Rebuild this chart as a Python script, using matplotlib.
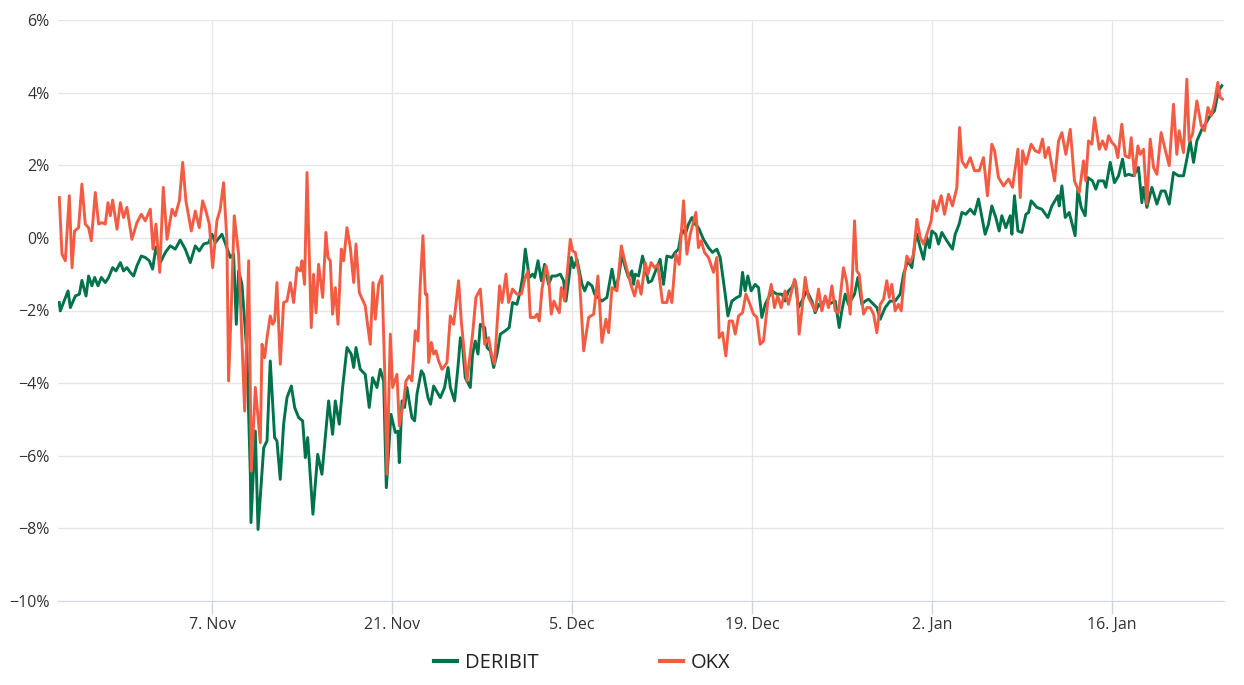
import numpy as np
import pandas as pd
import matplotlib
matplotlib.use("Agg")
import matplotlib.pyplot as plt
import matplotlib.dates as mdates
from matplotlib.ticker import MultipleLocator, FuncFormatter

plt.rcParams['font.family'] = ['Open Sans', 'DejaVu Sans']

# time axis: days since 26 Oct 2022
start = pd.Timestamp('2022-10-26')

deribit_days = [
    0.1, 0.18, 0.78, 0.96, 1.35, 1.66, 1.86, 2.18, 2.38, 2.64, 2.85, 3.11, 3.37, 3.68, 3.94,
    4.25, 4.51, 4.85, 5.1, 5.36, 5.62, 5.88, 6.14, 6.48, 6.79, 7.1, 7.36, 7.62, 7.96, 8.35,
    8.73, 9.12, 9.51, 9.9, 10.29, 10.68, 10.99, 11.33, 11.72, 11.98, 12.23, 12.75, 13.14,
    13.4, 13.66, 13.87, 14.05, 14.31, 14.7, 14.96,
    15.01, 15.35, 15.56, 16.0, 16.26, 16.51, 16.85, 17.03, 17.29, 17.55, 17.81, 18.15, 18.41,
    18.72, 19.03, 19.24, 19.42, 19.83, 20.2, 20.53, 20.79, 21.05, 21.36, 21.57, 21.88, 22.14,
    22.48, 22.81, 23.0, 23.18, 23.51, 23.9, 24.21, 24.47, 24.81, 25.07, 25.33, 25.54, 25.9,
    26.24, 26.44, 26.55, 26.76, 26.96, 27.14, 27.53, 27.74, 27.92, 28.26, 28.44, 28.78, 28.98,
    29.22, 29.74, 30.07,
    30.34, 30.52, 30.85, 31.11, 31.3, 31.48, 31.68, 32.07, 32.25, 32.46, 32.67, 32.85, 33.19,
    33.37, 33.63, 33.89, 34.15, 34.41, 34.79, 35.1, 35.36, 35.7, 35.96, 36.14, 36.35, 36.66,
    36.92, 37.08, 37.34, 37.6, 37.85, 38.16, 38.42, 38.74, 39.07, 39.33, 39.51, 39.72, 39.93,
    40.11, 40.37, 40.76, 40.97, 41.22, 41.54, 41.74, 42.31, 42.7, 43.09, 43.35, 43.61, 43.87,
    44.13,
    44.38, 44.64, 44.77, 44.9, 45.16, 45.47, 45.68, 45.93, 46.19, 46.58, 46.84, 47.1, 47.36,
    47.75, 48.01, 48.27, 48.53, 48.79, 49.05, 49.31, 49.56, 49.82, 50.21, 50.6, 50.91, 51.25,
    51.51, 51.69, 51.9, 52.11, 52.42, 52.81, 53.06, 53.25, 53.45, 53.66, 53.92, 54.23, 54.49,
    54.75, 55.01, 55.53, 55.92, 56.31, 56.56, 56.82, 57.08, 57.34, 57.6, 57.86, 58.25, 58.64,
    58.9, 59.16, 59.42, 59.68, 59.94, 60.46, 60.77, 60.97, 61.23, 61.49, 61.96, 62.22, 62.53,
    62.79, 63.05, 63.44, 63.7, 63.96, 64.34, 64.73, 65.12, 65.51, 65.77, 66.11, 66.42, 66.68,
    66.81, 67.07, 67.33, 67.59, 67.79, 67.97, 68.29, 68.49, 68.75, 69.14, 69.58, 69.79, 70.1,
    70.31, 70.62, 70.96, 71.29, 71.6, 71.92, 72.12, 72.38, 72.64, 72.95, 73.21, 73.42, 73.73,
    74.07, 74.2, 74.4,
    74.67, 74.98, 75.29, 75.5, 75.7, 76.14, 76.53, 77.0, 77.31, 77.78, 77.88, 78.09, 78.35,
    78.66, 79.12, 79.33, 79.59, 79.9, 80.11, 80.47, 80.73, 80.94, 81.33, 81.51, 81.85, 82.18,
    82.5, 82.81, 83.01, 83.27, 83.66, 84.05, 84.31, 84.44, 84.7, 85.09, 85.48, 85.81, 86.12,
    86.44, 86.77, 87.16, 87.55, 87.81, 88.07, 88.33, 88.59, 88.98, 89.24, 89.62, 89.96, 90.27,
    90.53,
]
deribit_vals = [
    -1.78, -2.01, -1.46, -1.92, -1.6, -1.55, -1.17, -1.6, -1.05, -1.32, -1.09, -1.32, -1.09, -1.23, -1.09,
    -0.82, -0.91, -0.68, -0.91, -0.82, -0.95, -1.05, -0.77, -0.5, -0.54, -0.63, -0.86, -0.25, -0.68, -0.4,
    -0.22, -0.31, -0.06, -0.31, -0.68, -0.22, -0.36, -0.17, -0.13, 0.1, -0.13, 0.1, -0.27,
    -0.54, -0.45, -2.38, -0.91, -1.28, -3.2, -6.51,
    -7.84, -5.32, -8.03, -5.78, -5.59, -3.39, -5.5, -5.59, -6.65, -5.13, -4.4, -4.08, -4.67,
    -4.95, -5.04, -6.05, -5.5, -7.61, -5.96, -6.51, -5.5, -4.49, -5.41, -4.49, -5.13, -4.12,
    -3.02, -3.2, -3.57, -3.02, -3.62, -3.76, -4.67, -3.85, -4.12, -3.62, -3.94, -6.88, -4.86,
    -5.36, -5.32, -6.19, -4.49, -4.67, -4.12, -4.95, -5.04, -4.31, -3.66, -3.76, -4.4, -4.58,
    -4.08, -4.4, -4.12,
    -3.57, -4.12, -4.49, -3.57, -2.75, -3.02, -3.85, -4.12, -3.2, -2.84, -3.2, -2.38, -2.47,
    -3.02, -3.11, -3.57, -3.2, -2.65, -2.56, -2.47, -1.78, -1.83, -1.46, -1.09, -0.31, -1.09,
    -1.0, -1.09, -0.63, -1.18, -0.73, -1.28, -1.05, -1.05, -1.0, -1.18, -1.74, -1.18, -0.54,
    -0.82, -0.59, -1.28, -1.46, -1.23, -1.32, -1.55, -1.74, -1.64, -0.86, -1.37, -1.09, -0.45,
    -0.82,
    -1.09, -0.91, -1.28, -1.0, -1.05, -0.5, -0.82, -1.23, -1.18, -0.82, -0.59, -1.28, -0.5,
    -0.54, -0.4, -0.31, 0.24, 0.1, 0.38, 0.56, 0.38, 0.28, -0.04, -0.27, -0.4, -0.31,
    -0.54, -1.0, -1.55, -2.15, -1.74, -1.64, -1.6, -0.95, -1.46, -1.05, -1.46, -1.28, -1.37,
    -2.19, -1.83, -1.46, -1.55, -1.55, -1.74, -1.46, -1.37, -1.18, -1.92, -1.74, -1.46, -1.74,
    -2.06, -1.83, -1.92, -1.64, -1.83, -1.74, -2.47, -2.01, -1.55, -1.83, -1.55, -1.09, -1.83,
    -1.74, -1.69, -1.83, -1.92, -2.24, -1.92, -1.74, -1.74, -1.55, -1.0, -0.63, -0.82, -0.08,
    0.1, -0.27, -0.59, 0.01, -0.27, 0.19, 0.1, -0.17, 0.15, -0.08, -0.31, 0.1, 0.38,
    0.7, 0.65, 0.79, 0.65, 1.07, 0.47, 0.1, 0.38, 0.88, 0.56, 0.19, 0.61, 0.28,
    0.61, 0.1, 1.16,
    0.19, 0.15, 0.65, 0.7, 1.02, 0.84, 0.79, 0.56, 0.88, 1.16, 0.88, 1.43, 0.56,
    0.7, 0.06, 1.34, 0.84, 0.61, 1.66, 1.57, 1.34, 1.57, 1.57, 1.39, 2.08, 1.52,
    1.71, 2.17, 1.71, 1.75, 1.71, 1.94, 0.97, 1.39, 0.84, 1.39, 0.93, 1.29, 1.29,
    0.93, 1.8, 1.71, 1.71, 2.17, 2.67, 2.08, 2.67, 2.99, 3.13, 3.36, 3.5, 4.05,
    4.19,
]

okx_days = [
    0.1, 0.31, 0.57, 0.88, 1.09, 1.29, 1.6, 1.86, 2.12, 2.38, 2.59, 2.9, 3.16, 3.42, 3.68,
    3.89, 4.07, 4.25, 4.59, 4.85, 5.1, 5.36, 5.75, 6.14, 6.48, 6.79, 7.18, 7.39, 7.62, 7.91,
    8.19, 8.48, 8.87, 9.12, 9.44, 9.7, 9.95, 10.37, 10.68, 10.99, 11.25, 11.51, 11.77, 12.03,
    12.36, 12.62, 12.88, 13.14, 13.27, 13.48, 13.71, 14.05, 14.52,
    14.83, 15.04, 15.35, 15.74, 15.87, 16.07, 16.26, 16.51, 16.7, 16.85, 17.03, 17.29, 17.55,
    17.81, 18.07, 18.33, 18.59, 18.85, 18.98, 19.18, 19.37, 19.7, 19.88, 20.07, 20.27, 20.59,
    20.84, 21.0, 21.18, 21.36, 21.57, 21.78, 22.04, 22.22, 22.48, 22.74, 23.0, 23.18, 23.44,
    23.9, 24.11, 24.29, 24.5, 24.68, 24.94, 25.2, 25.41, 25.59, 25.85, 26.03, 26.37, 26.55,
    26.89, 27.07, 27.33, 27.53, 27.79, 28.0, 28.18, 28.39, 28.57, 28.7, 28.83, 29.04, 29.22,
    29.4, 29.61, 29.87, 30.07,
    30.26, 30.52, 30.78, 31.16, 31.37, 31.81, 32.25, 32.51, 32.85, 33.19, 33.5, 33.71, 33.96,
    34.35, 34.54, 34.85, 35.05, 35.36, 35.7, 36.04, 36.35, 36.56, 36.74, 37.08, 37.26, 37.44,
    37.65, 37.96, 38.16, 38.37, 38.58, 38.79, 39.0, 39.15, 39.41, 39.67, 39.85, 40.03, 40.24,
    40.55, 40.89, 41.28, 41.67, 42.0, 42.31, 42.62, 42.83, 43.09, 43.48, 43.82, 44.08,
    44.59, 44.85, 45.11, 45.36, 45.68, 45.88, 46.14, 46.4, 46.66, 47.02, 47.36, 47.54, 47.75,
    48.06, 48.32, 48.66, 48.92, 49.18, 49.62, 49.82, 50.03, 50.29, 50.6, 50.99, 51.25, 51.43,
    51.69, 51.95, 52.21, 52.47, 52.68, 52.94, 53.25, 53.51, 53.77, 54.1, 54.36, 54.62, 54.88,
    55.22, 55.48, 55.73, 55.99, 56.25, 56.56, 56.82, 57.29, 57.47, 57.65, 57.86, 58.12, 58.38,
    58.77,
    58.9, 59.16, 59.42, 59.68, 59.94, 60.2, 60.46, 60.71, 61.1, 61.36, 61.62, 61.8, 61.96,
    62.14, 62.32, 62.66, 62.92, 63.18, 63.44, 63.7, 63.96, 64.22, 64.47, 64.66, 64.86, 65.12,
    65.38, 65.59, 65.85, 66.03, 66.29, 66.55, 66.81, 67.07, 67.33, 67.59, 67.92, 68.1, 68.36,
    68.7, 68.96, 69.27, 69.58, 69.92, 70.13, 70.31, 70.62, 70.96, 71.29, 71.66, 71.99, 72.3,
    72.64, 72.85, 73.16, 73.55, 73.94, 74.25,
    74.67, 74.85, 75.03, 75.29, 75.7, 76.01, 76.32, 76.58, 76.79, 77.05, 77.52, 77.83, 78.09,
    78.4, 78.74, 79.07, 79.44, 79.77, 79.95, 80.16, 80.42, 80.63, 81.0, 81.25, 81.51, 81.72,
    81.98, 82.24, 82.44, 82.75, 83.01, 83.33, 83.48, 83.74, 84.0, 84.18, 84.44, 84.7, 84.96,
    85.22, 85.48, 85.81, 86.12, 86.44, 86.77, 87.03, 87.21, 87.55, 87.81, 87.99, 88.25, 88.59,
    88.93, 89.19, 89.45, 89.7, 89.96, 90.22, 90.4, 90.58,
]
okx_vals = [
    1.11, -0.45, -0.63, 1.16, -0.82, 0.19, 0.28, 1.48, 0.38, 0.28, -0.08, 1.25, 0.38, 0.42, 0.38,
    0.97, 0.61, 1.04, 0.24, 0.97, 0.56, 0.84, -0.04, 0.42, 0.65, 0.47, 0.79, -0.31, 0.38, -0.95,
    1.39, -0.04, 0.79, 0.61, 1.02, 2.08, 1.02, 0.19, 0.74, 0.28, 1.02, 0.74, 0.38, -0.82,
    0.47, 0.79, 1.52, -0.08, -3.94, -1.92, 0.61, -0.45, -4.77,
    -0.63, -6.42, -4.12, -5.64, -2.93, -3.3, -2.75, -2.15, -2.38, -2.29, -1.23, -3.48, -1.78,
    -1.74, -1.23, -1.78, -0.82, -0.91, -0.63, -1.28, 1.8, -2.47, -1.0, -2.06, -0.73, -1.64,
    0.15, -0.54, -0.63, -2.1, -1.37, -2.38, -0.31, -0.63, 0.28, -0.27, -1.23, -0.17, -1.51,
    -1.87, -2.47, -2.93, -1.23, -2.24, -1.28, -1.05, -3.66, -6.51, -2.65, -4.12, -3.76, -5.18,
    -4.49, -3.94, -3.8, -3.94, -2.56, -2.84, -1.28, 0.06, -1.55, -1.55, -3.43, -2.88, -3.2,
    -3.11, -3.39, -3.62, -3.53,
    -3.43, -2.15, -2.38, -1.18, -2.29, -3.94, -2.65, -1.64, -1.41, -2.93, -2.75, -3.2, -3.48,
    -1.32, -1.78, -1.0, -1.78, -1.41, -1.55, -1.55, -1.09, -0.91, -2.19, -2.19, -2.1, -2.29,
    -1.41, -0.77, -1.09, -2.1, -1.74, -1.92, -2.06, -1.37, -1.74, -0.73, -0.04, -0.36, -0.4,
    -1.05, -3.11, -2.19, -2.1, -1.05, -2.88, -2.24, -2.61, -1.37, -1.46, -0.22, -0.63,
    -1.32, -1.6, -1.18, -1.55, -0.68, -1.0, -0.68, -0.82, -0.73, -1.78, -1.78, -1.46, -1.78,
    -0.45, -0.73, 1.02, -0.45, 0.1, 0.7, -0.27, -0.08, -0.4, -0.54, -0.95, -0.54, -2.75,
    -2.61, -3.25, -2.29, -2.29, -2.65, -2.15, -2.06, -1.55, -1.78, -2.1, -2.19, -2.93, -2.84,
    -1.74, -1.28, -1.92, -1.6, -1.92, -1.46, -1.83, -1.14, -1.37, -2.65, -2.01, -1.09, -1.64,
    -1.92,
    -2.01, -1.41, -2.01, -1.6, -1.92, -1.32, -2.01, -2.06, -0.82, -1.23, -2.1, -1.0, 0.47,
    -0.91, -1.0, -2.1, -1.92, -1.92, -2.1, -2.61, -1.83, -1.69, -1.18, -1.64, -1.28, -2.01,
    -1.83, -2.01, -1.0, -0.5, -0.68, -0.45, 0.51, 0.01, -0.17, 0.1, 0.47, 1.02, 0.74,
    1.16, 0.65, 1.2, 0.88, 1.39, 3.04, 2.12, 1.94, 2.21, 1.85, 1.85, 2.21, 1.16,
    2.58, 2.4, 1.66, 1.43, 1.62, 1.39,
    2.44, 1.11, 2.4, 2.03, 2.58, 2.4, 2.35, 2.72, 2.21, 2.49, 1.57, 2.67, 2.9,
    2.3, 2.99, 1.57, 1.25, 2.12, 1.57, 2.67, 2.58, 3.31, 2.44, 2.67, 2.44, 2.81,
    2.63, 2.53, 2.21, 3.13, 2.26, 2.21, 2.76, 1.71, 2.53, 2.3, 2.44, 0.93, 2.72,
    1.94, 1.75, 2.9, 2.44, 1.99, 3.68, 2.3, 2.95, 2.35, 4.37, 2.67, 2.85, 3.77,
    3.09, 2.95, 3.59, 3.36, 3.73, 4.28, 3.87, 3.82,
]

deribit_t = start + pd.to_timedelta(deribit_days, unit='D')
okx_t = start + pd.to_timedelta(okx_days, unit='D')
tick_dates = pd.date_range('2022-11-07', periods=6, freq='14D')

fig = plt.figure(figsize=(12.44, 6.85), dpi=100)
ax = fig.add_axes([58/1244, 1 - 601/685, (1224 - 58)/1244, (601 - 20)/685])

ax.plot(deribit_t, deribit_vals, color='#00734a', lw=2.1, label='DERIBIT', zorder=3,
        solid_joinstyle='round')
ax.plot(okx_t, okx_vals, color='#f45b43', lw=2.1, label='OKX', zorder=4,
        solid_joinstyle='round')

ax.set_ylim(-10, 6)
ax.set_xlim(start, start + pd.Timedelta(days=90.7))
ax.yaxis.set_major_locator(MultipleLocator(2))
ax.yaxis.set_major_formatter(FuncFormatter(lambda v, p: f"{v:.0f}%".replace('-', '\u2212')))
ax.set_xticks(tick_dates)
ax.xaxis.set_major_formatter(mdates.DateFormatter('%-d. %b'))

ax.grid(True, color='#e6e6e6', lw=1)
ax.set_axisbelow(True)
for s in ax.spines.values():
    s.set_visible(False)
ax.spines['bottom'].set_visible(True)
ax.spines['bottom'].set_color('#ccd6eb')
ax.spines['bottom'].set_zorder(2)
ax.tick_params(axis='y', length=0, labelsize=11.5, colors='#333333', pad=6)
ax.tick_params(axis='x', length=9.5, width=1, color='#ccd6eb', labelsize=11.5,
               labelcolor='#333333', pad=2)

fig.legend(loc='center', bbox_to_anchor=(0.468, 1 - 663/685), ncol=2, frameon=False,
           fontsize=14.5, handlelength=1.15, handletextpad=0.4, columnspacing=6.0,
           labelcolor='#222222')
leg = fig.legends[0]
for h in leg.legend_handles:
    h.set_linewidth(3)

fig.savefig('out.png', dpi=100)
